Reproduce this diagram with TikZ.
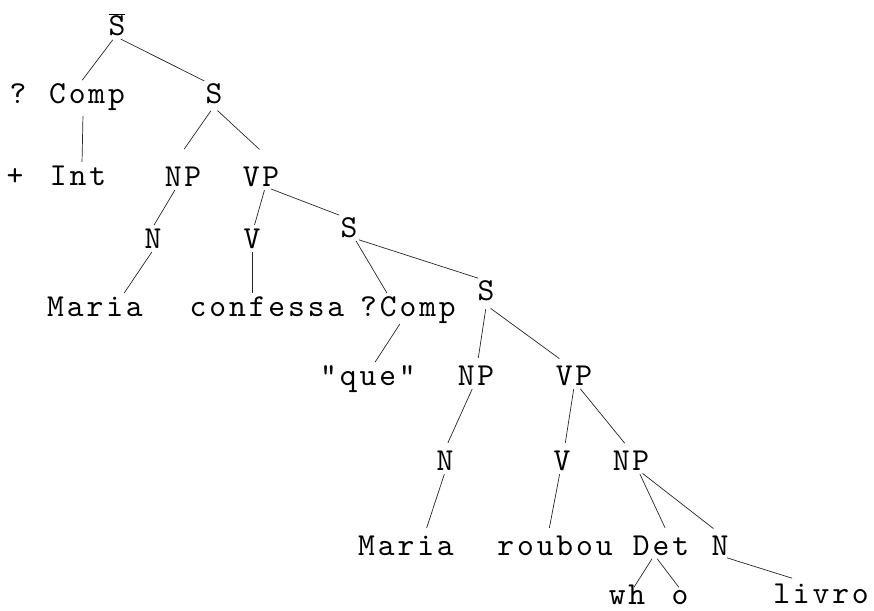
\documentclass[tikz,border=0pt]{standalone}
\usepackage{fontspec}
\newfontfamily\twfont[LetterSpace=9]{lmmono10-regular.otf}
\begin{document}
\begin{tikzpicture}[x=1pt,y=-1pt,
  lbl/.style={font=\twfont\fontsize{32}{34}\selectfont, inner sep=2pt, text height=19pt, text depth=0pt, anchor=base},
  edge/.style={draw=black!85, line width=0.7pt, shorten <=2pt, shorten >=2pt}]
\useasboundingbox (0,0) rectangle (874,610);
% nodes
\node[lbl] (sbar) at (117,36) {$\overline{\rule{0pt}{20pt}\mbox{S}}$};
\node[lbl] (q1) at (18,103) {?};
\node[lbl] (comp) at (87,103) {Comp};
\node[lbl] (s1) at (214,103) {S};
\node[lbl] (plus) at (15,185) {+};
\node[lbl] (int) at (78,185) {Int};
\node[lbl] (np1) at (183,186) {NP};
\node[lbl] (vp1) at (261,186) {VP};
\node[lbl] (n1) at (153,248) {N};
\node[lbl] (v1) at (252,248) {V};
\node[lbl] (s2) at (349,237) {S};
\node[lbl] (maria1) at (95,316) {Maria};
\node[lbl] (confessa) at (267,316) {confessa};
\node[lbl] (qcomp) at (408,316) {?Comp};
\node[lbl] (s3) at (486,300) {S};
\node[lbl] (que) at (368,385) {"que"};
\node[lbl] (np2) at (476,385) {NP};
\node[lbl] (vp2) at (574,385) {VP};
\node[lbl] (n2) at (445,470) {N};
\node[lbl] (v2) at (562,470) {V};
\node[lbl] (np3) at (631,470) {NP};
\node[lbl] (maria2) at (406,555) {Maria};
\node[lbl] (roubou) at (555,555) {roubou};
\node[lbl] (det) at (661,555) {Det};
\node[lbl] (n3) at (720,555) {N};
\node[lbl] (wh) at (627,604) {wh};
\node[lbl] (o) at (680,604) {o};
\node[lbl] (livro) at (821,603) {livro};
% edges
\draw[edge] ([xshift=-3pt]sbar.south) -- ([xshift=-6pt]comp.north);
\draw[edge] ([xshift=2pt]sbar.south) -- ([xshift=-8pt]s1.north);
\draw[edge] ([xshift=-4pt,yshift=-9pt]comp.south) -- ([xshift=4pt]int.north);
\draw[edge] ([xshift=-2pt,yshift=-4pt]s1.south) -- ([yshift=14pt]np1.north);
\draw[edge] ([xshift=2pt,yshift=-4pt]s1.south) -- ([yshift=14pt]vp1.north);
\draw[edge] ([xshift=-7pt]np1.south) -- (n1.north);
\draw[edge] ([xshift=4pt]vp1.south) -- ([xshift=2pt]v1.north);
\draw[edge] ([xshift=8pt]vp1.south) -- ([xshift=-8pt]s2.north);
\draw[edge] (n1.south) -- ([xshift=28pt]maria1.north);
\draw[edge] (v1.south) -- (v1.south |- confessa.north);
\draw[edge] ([xshift=6pt]s2.south) -- ([xshift=-20pt]qcomp.north);
\draw[edge] ([xshift=8pt]s2.south) -- ([xshift=-6pt]s3.north);
\draw[edge] ([xshift=-7pt,yshift=-4pt]qcomp.south) -- ([xshift=6pt]que.north);
\draw[edge] ([yshift=-5pt]s3.south) -- ([xshift=2pt,yshift=4pt]np2.north);
\draw[edge] ([xshift=3pt,yshift=-5pt]s3.south) -- ([xshift=-13pt,yshift=4pt]vp2.north);
\draw[edge] ([xshift=-3pt]np2.south) -- ([xshift=2pt,yshift=4pt]n2.north);
\draw[edge] (vp2.south) -- ([xshift=3pt,yshift=4pt]v2.north);
\draw[edge] ([xshift=5pt]vp2.south) -- ([xshift=-5pt,yshift=4pt]np3.north);
\draw[edge] (n2.south) -- ([xshift=20pt,yshift=4pt]maria2.north);
\draw[edge] ([xshift=-2pt]v2.south) -- ([xshift=-6pt,yshift=4pt]roubou.north);
\draw[edge] ([xshift=8pt]np3.south) -- ([xshift=5pt,yshift=4pt]det.north);
\draw[edge] ([xshift=10pt]np3.south) -- ([xshift=-5pt,yshift=4pt]n3.north);
\draw[edge] ([xshift=-8pt]det.south) -- ([xshift=6pt,yshift=-6pt]wh.north);
\draw[edge] ([xshift=-5pt]det.south) -- ([yshift=-6pt]o.north);
\draw[edge] ([xshift=5pt]n3.south) -- ([xshift=-27pt,yshift=3pt]livro.north);
\end{tikzpicture}
\end{document}
